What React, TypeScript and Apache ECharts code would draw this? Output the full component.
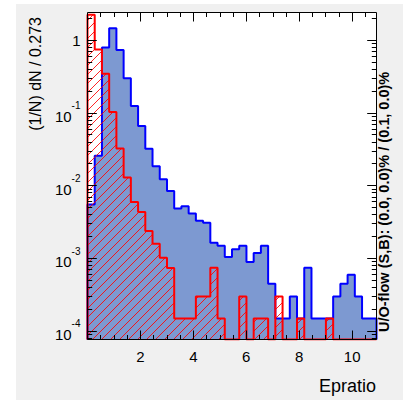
import React, { useEffect, useRef } from 'react';
import * as echarts from 'echarts';

// ---- data ----
const binWidth = 0.273;
const xMin = 0;
const nBins = 40;
// signal (blue, filled) – normalised entries per bin
const signal = [
  0.00547, 0.0256, 0.796, 1.455, 0.735, 0.299, 0.124, 0.0658, 0.032, 0.01846,
  0.01222, 0.00843, 0.00482, 0.00518, 0.00411, 0.00327, 0.00307, 0.00163, 0.00148, 0.00104,
  0.00133, 0.00148, 0.000887, 0.00118, 0.00148, 0.000444, 0.000148, 0.000148, 0.000296, 0.000148,
  0.00074, 0.000148, 0.000148, 0.000148, 0.000296, 0.000444, 0.000592, 0.000296, 0.000148, 0.000148,
];
// background (red, hatched)
const background = [
  2.233, 0.746, 0.346, 0.1026, 0.0322, 0.01289, 0.00594, 0.00433, 0.002366, 0.001585,
  0.001016, 0.00073, 0.000148, 0.000148, 0.000148, 0.000296, 0.000296, 0.00074, 0.000148, 0,
  0, 0.000296, 0, 0.000148, 0.000148, 0, 0.000296, 0, 0, 0.000148,
  0, 0, 0, 0.000148, 0, 0, 0, 0, 0, 0,
];
const xMajorTicks = [2, 4, 6, 8, 10];
const xMinorTicks = [0.5, 1, 1.5, 2.5, 3, 3.5, 4.5, 5, 5.5, 6.5, 7, 7.5, 8.5, 9, 9.5, 10.5];
const yDecades = [-4, -3, -2, -1, 0];
const yTitle = '(1/N) dN / 0.273';
const xTitle = 'Epratio';
const overflowText = 'U/O-flow (S,B): (0.0, 0.0)% / (0.1, 0.0)%';

const yLo = -4.119;
const yHi = 0.381;
const xHi = xMin + nBins * binWidth;

const yMinorTicks: number[] = [];
for (let d = -5; d <= 0; d++) {
  for (let k = 2; k <= 9; k++) {
    const v = Math.log10(k) + d;
    if (v > yLo && v < yHi) yMinorTicks.push(v);
  }
}

function stepPoints(vals: number[]) {
  const pts: number[][] = [[xMin, yLo]];
  vals.forEach((v, i) => {
    const ly = v > 0 ? Math.log10(v) : yLo;
    const x0 = xMin + i * binWidth;
    pts.push([x0, ly], [x0 + binWidth, ly]);
  });
  pts.push([xHi, yLo]);
  return pts;
}

const HATCH = 9;
function makeHatch(): string {
  const s = HATCH;
  const c = document.createElement('canvas');
  c.width = s;
  c.height = s;
  const g = c.getContext('2d')!;
  g.strokeStyle = 'rgba(255,0,0,0.85)';
  g.lineWidth = 1;
  g.beginPath();
  for (const o of [-s, 0, s]) {
    g.moveTo(o - 1, s + 1);
    g.lineTo(o + s + 1, -1);
  }
  g.stroke();
  return c.toDataURL();
}

const FONT = '"Liberation Sans", Arial, sans-serif';
const G = { left: 87.5, top: 12.5, width: 289, height: 327 };

export default function App() {
  const ref = useRef<HTMLDivElement>(null);
  useEffect(() => {
    const chart = echarts.init(ref.current!, null, { renderer: 'svg' });
    const tickStyle = { color: '#000', width: 1 };
    const mkX = (grid: number, pos: string, ticks: number[], len: number, labels: boolean) => ({
      type: 'value', gridIndex: grid, position: pos, min: xMin, max: xHi, z: 10,
      axisLine: { show: false, onZero: false }, splitLine: { show: false },
      axisTick: { show: true, inside: true, length: len, lineStyle: tickStyle, customValues: ticks },
      axisLabel: labels
        ? { show: true, customValues: ticks, margin: 9, fontSize: 15, lineHeight: 15, fontFamily: FONT, color: '#000' }
        : { show: false },
    });
    const mkY = (grid: number, pos: string, ticks: number[], len: number, labels: boolean) => ({
      type: 'value', gridIndex: grid, position: pos, min: yLo, max: yHi, z: 10,
      axisLine: { show: false, onZero: false }, splitLine: { show: false },
      axisTick: { show: true, inside: true, length: len, lineStyle: tickStyle, customValues: ticks },
      axisLabel: labels
        ? {
            show: true, customValues: ticks, margin: 7, fontFamily: FONT, color: '#000',
            formatter: (v: number) => (Math.abs(v) < 1e-9 ? '{one|1}' : `{b|10}{s|${Math.round(v)}}`),
            rich: {
              one: { fontSize: 15, lineHeight: 15, fontFamily: FONT, color: '#000' },
              b: { fontSize: 15, lineHeight: 23, padding: [7, 0, 0, 0], fontFamily: FONT, color: '#000' },
              s: { fontSize: 10, lineHeight: 24, verticalAlign: 'top', fontFamily: FONT, color: '#000' },
            },
          }
        : { show: false },
    });
    const hatch = makeHatch();
    chart.setOption({
      animation: false,
      grid: [
        { ...G, show: true, backgroundColor: '#fff', borderWidth: 0, outerBoundsMode: 'none' },
        { ...G, show: false, outerBoundsMode: 'none' },
      ],
      xAxis: [
        mkX(0, 'bottom', xMajorTicks, 9, true),
        mkX(0, 'top', xMajorTicks, 9, false),
        mkX(1, 'bottom', xMinorTicks, 4.5, false),
        mkX(1, 'top', xMinorTicks, 4.5, false),
      ],
      yAxis: [
        mkY(0, 'left', yDecades, 9.3, true),
        mkY(0, 'right', yDecades, 9.3, false),
        mkY(1, 'left', yMinorTicks, 4.7, false),
        mkY(1, 'right', yMinorTicks, 4.7, false),
      ],
      series: [
        {
          name: 'Signal', type: 'line', xAxisIndex: 0, yAxisIndex: 0, data: stepPoints(signal),
          symbol: 'none', z: 2,
          lineStyle: { color: '#0000ff', width: 2 },
          areaStyle: { color: '#7d99d1', opacity: 1, origin: 'start' },
        },
        {
          name: 'Background', type: 'line', xAxisIndex: 0, yAxisIndex: 0, data: stepPoints(background),
          symbol: 'none', z: 3,
          lineStyle: { color: '#ff0000', width: 2 },
          areaStyle: {
            color: { image: hatch, repeat: 'repeat', imageWidth: HATCH, imageHeight: HATCH },
            opacity: 1, origin: 'start',
          },
        },
      ],
      graphic: [
        {
          type: 'rect', z: 50, silent: true,
          shape: { x: G.left, y: G.top, width: G.width, height: G.height },
          style: { fill: 'none', stroke: '#000', lineWidth: 1 },
        },
        {
          type: 'text', z: 50, x: 35, y: 17, rotation: Math.PI / 2,
          style: { text: yTitle, fontSize: 16, fontFamily: FONT, fill: '#000', align: 'right', verticalAlign: 'middle' },
        },
        {
          type: 'text', z: 50, x: 376, y: 385.5,
          style: { text: xTitle, fontSize: 18, fontFamily: FONT, fill: '#000', align: 'right', verticalAlign: 'middle' },
        },
        {
          type: 'text', z: 50, x: 384, y: 332, rotation: Math.PI / 2,
          style: { text: overflowText, fontSize: 14.5, fontWeight: 'bold', fontFamily: FONT, fill: '#000', align: 'left', verticalAlign: 'middle' },
        },
      ],
    });
    return () => chart.dispose();
  }, []);
  return (
    <div style={{ position: 'absolute', left: 0, top: 0, width: 403, height: 400, background: '#fff' }}>
      <div style={{ position: 'absolute', left: 16, top: 4, width: 387, height: 396, background: '#f0f0f0' }} />
      <div ref={ref} style={{ position: 'absolute', left: 0, top: 0, width: 403, height: 400 }} />
    </div>
  );
}
